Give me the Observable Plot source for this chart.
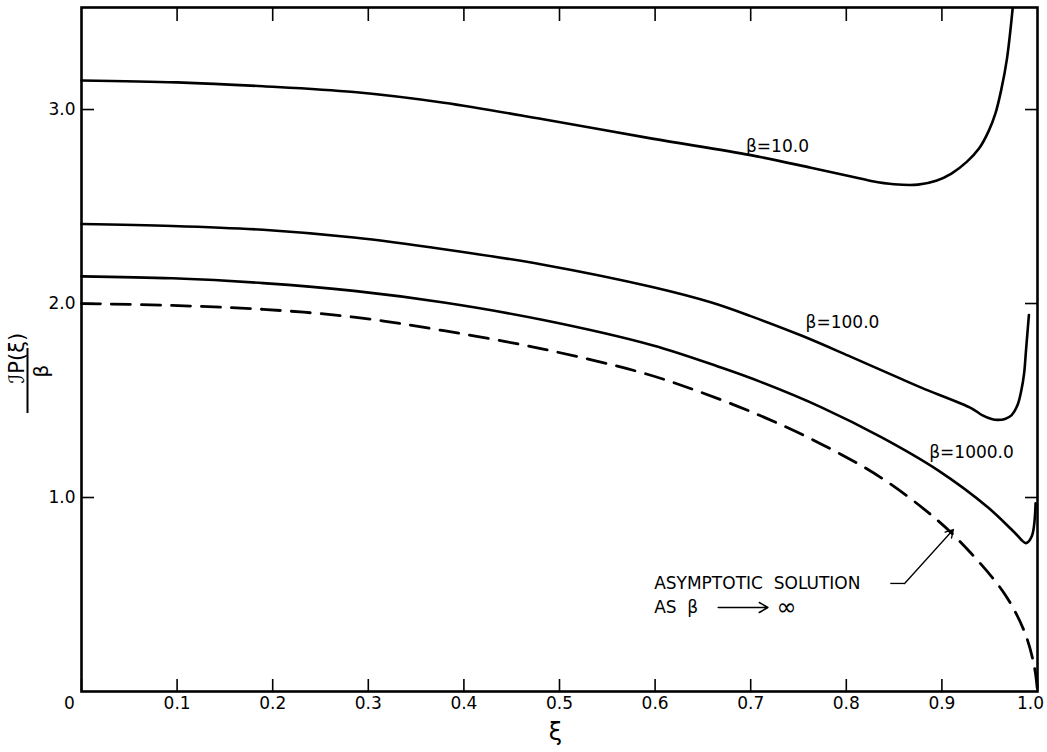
<!DOCTYPE html>
<html>
<head>
<meta charset="utf-8">
<script src="https://cdn.jsdelivr.net/npm/d3@7"></script>
<script src="https://cdn.jsdelivr.net/npm/@observablehq/plot@0.6"></script>
<style>
  html, body { margin: 0; padding: 0; background: #fff; }
  g[aria-label="note"] text { letter-spacing: 1.2px; }
</style>
</head>
<body>
<div id="chart"></div>
<script>
// ---- data ----
const xi10 = [0, 0.1, 0.19, 0.285, 0.379, 0.483, 0.597, 0.70, 0.763, 0.805, 0.826, 0.85, 0.875, 0.894, 0.91, 0.926, 0.939, 0.949, 0.956, 0.962, 0.968, 0.974];
const p10  = [3.15, 3.14, 3.12, 3.09, 3.035, 2.95, 2.85, 2.765, 2.70, 2.655, 2.632, 2.615, 2.613, 2.633, 2.67, 2.73, 2.80, 2.89, 2.98, 3.10, 3.26, 3.52];

const xi100 = [0, 0.095, 0.19, 0.285, 0.379, 0.483, 0.597, 0.659, 0.70, 0.753, 0.805, 0.858, 0.879, 0.931, 0.942, 0.952, 0.958, 0.966, 0.973, 0.979, 0.983, 0.986, 0.988, 0.991];
const p100  = [2.41, 2.40, 2.38, 2.34, 2.28, 2.20, 2.085, 2.005, 1.935, 1.835, 1.725, 1.61, 1.565, 1.46, 1.425, 1.405, 1.40, 1.405, 1.425, 1.475, 1.55, 1.64, 1.76, 1.94];

const xi1000 = [0, 0.095, 0.19, 0.285, 0.379, 0.483, 0.597, 0.669, 0.711, 0.774, 0.837, 0.896, 0.948, 0.976, 0.988, 0.994, 0.998];
const p1000  = [2.14, 2.13, 2.105, 2.065, 2.005, 1.915, 1.785, 1.67, 1.595, 1.465, 1.31, 1.14, 0.95, 0.82, 0.765, 0.80, 0.97];

const xiAsym = [0, 0.095, 0.19, 0.285, 0.379, 0.483, 0.585, 0.641, 0.711, 0.774, 0.837, 0.896, 0.931, 0.966, 0.987, 0.997, 1.0];
const pAsym  = [2.0, 1.99, 1.97, 1.93, 1.86, 1.765, 1.645, 1.555, 1.42, 1.275, 1.10, 0.88, 0.71, 0.50, 0.30, 0.12, 0.0];

const xTicks = [0, 0.1, 0.2, 0.3, 0.4, 0.5, 0.6, 0.7, 0.8, 0.9, 1.0];
const xTickLabels = ["0", "0.1", "0.2", "0.3", "0.4", "0.5", "0.6", "0.7", "0.8", "0.9", "1.0"];
const yTicks = [1, 2, 3];
const yTickLabels = ["1.0", "2.0", "3.0"];

const curveLabels = [
  {text: "β=10.0",   x: 0.728, y: 2.81},
  {text: "β=100.0",  x: 0.796, y: 1.90},
  {text: "β=1000.0", x: 0.931, y: 1.23}
];
const noteLines = [
  {text: "ASYMPTOTIC  SOLUTION", x: 0.599, y: 0.557},
  {text: "AS  β", x: 0.599, y: 0.433}
];

// ---- build tables ----
const toPts = (xs, ys) => xs.map((x, i) => ({x, y: ys[i]}));
const s10 = toPts(xi10, p10);
const s100 = toPts(xi100, p100);
const s1000 = toPts(xi1000, p1000);
const sAsym = toPts(xiAsym, pAsym);

const W = 1047, H = 752;
const mL = 81, mR = 10, mT = 7, mB = 61;
const fw = W - mL - mR, fh = H - mT - mB;
const font = "DejaVu Sans";
const lineCurve = "catmull-rom";

const chart = Plot.plot({
  width: W, height: H,
  marginLeft: mL, marginRight: mR, marginTop: mT, marginBottom: mB,
  x: {domain: [0, 1], axis: null},
  y: {domain: [0, 3.526], axis: null},
  style: {fontFamily: font, fontSize: "17px", background: "#fff", color: "#000"},
  marks: [
    // curves
    Plot.line(s10, {x: "x", y: "y", curve: lineCurve, stroke: "#000", strokeWidth: 2.6}),
    Plot.line(s100, {x: "x", y: "y", curve: lineCurve, stroke: "#000", strokeWidth: 2.6}),
    Plot.line(s1000, {x: "x", y: "y", curve: lineCurve, stroke: "#000", strokeWidth: 2.6}),
    Plot.line(sAsym, {x: "x", y: "y", curve: lineCurve, stroke: "#000", strokeWidth: 2.8, strokeDasharray: "19,11"}),
    // frame
    Plot.frame({stroke: "#000", strokeWidth: 2.6}),
    // inward ticks
    Plot.ruleX(xTicks, {x: d => d, insetTop: fh - 12, stroke: "#000", strokeWidth: 1.6}),
    Plot.ruleX(xTicks.slice(1, -1), {x: d => d, insetBottom: fh - 14, stroke: "#000", strokeWidth: 1.6}),
    Plot.ruleY(yTicks, {y: d => d, insetRight: fw - 13, stroke: "#000", strokeWidth: 1.6}),
    Plot.ruleY(yTicks, {y: d => d, insetLeft: fw - 12, stroke: "#000", strokeWidth: 1.6}),
    // tick labels
    Plot.text(xTicks.slice(1, -1), {x: d => d, text: (d, i) => xTickLabels[i + 1], frameAnchor: "bottom", dy: 17, fontSize: 17}),
    Plot.text(xTicks.slice(0, 1), {x: d => d, text: (d, i) => xTickLabels[i], frameAnchor: "bottom", dy: 17, dx: -12, fontSize: 17}),
    Plot.text(xTicks.slice(-1), {x: d => d, text: (d, i) => xTickLabels[xTickLabels.length - 1], frameAnchor: "bottom", dy: 17, dx: -7, fontSize: 17}),
    Plot.text(yTicks, {y: d => d, text: (d, i) => yTickLabels[i], frameAnchor: "left", dx: -6, textAnchor: "end", fontSize: 17}),
    // axis titles
    Plot.text(["ξ"], {text: d => d, frameAnchor: "bottom", dy: 48, dx: -4, fontSize: 24}),
    Plot.text(["ℐP(ξ)"], {text: d => d, frameAnchor: "left", dx: -64, dy: 34, rotate: -90, fontSize: 21}),
    Plot.ruleX([0], {x: d => d, dx: -54, insetTop: 341, insetBottom: 278, stroke: "#000", strokeWidth: 2}),
    Plot.text(["β"], {text: d => d, frameAnchor: "left", dx: -40, dy: 28, rotate: -90, fontSize: 20}),
    // curve labels
    Plot.text(curveLabels, {x: "x", y: "y", text: "text", fontSize: 17}),
    // asymptotic annotation
    Plot.text(noteLines, {x: "x", y: "y", text: "text", textAnchor: "start", fontSize: 17, ariaLabel: "note"}),
    Plot.link([{x1: 0.846, y1: 0.557, x2: 0.861, y2: 0.557}], {x1: "x1", y1: "y1", x2: "x2", y2: "y2", stroke: "#000", strokeWidth: 1.3}),
    Plot.arrow([{x1: 0.861, y1: 0.557, x2: 0.912, y2: 0.835}], {x1: "x1", y1: "y1", x2: "x2", y2: "y2", stroke: "#000", strokeWidth: 1.3, headLength: 10}),
    Plot.arrow([{x1: 0.666, y1: 0.433, x2: 0.718, y2: 0.433}], {x1: "x1", y1: "y1", x2: "x2", y2: "y2", stroke: "#000", strokeWidth: 1.5, headLength: 10}),
    Plot.text([{x: 0.727, y: 0.433, t: "∞"}], {x: "x", y: "y", text: "t", textAnchor: "start", fontSize: 24})
  ]
});
document.getElementById("chart").appendChild(chart);
</script>
</body>
</html>
